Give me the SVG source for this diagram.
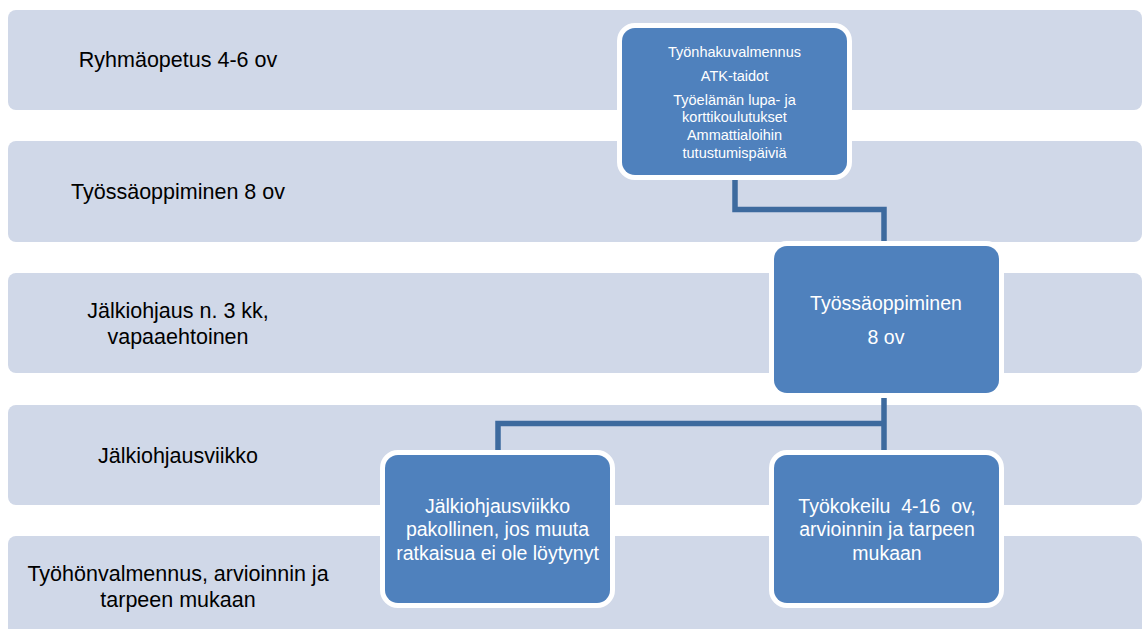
<svg xmlns="http://www.w3.org/2000/svg" width="1144" height="629" viewBox="0 0 1144 629">
<style>
.band{fill:#d0d8e8}
.bt{font-family:"Liberation Sans",Arial,sans-serif;font-size:21.5px;fill:#000;text-anchor:middle}
.box{fill:#4f81bd;stroke:#fff;stroke-width:10;paint-order:stroke}
.wt{font-family:"Liberation Sans",Arial,sans-serif;font-size:19.5px;fill:#fff;text-anchor:middle}
.st{font-family:"Liberation Sans",Arial,sans-serif;font-size:14.5px;fill:#fff;text-anchor:middle}
.conn{fill:none;stroke:#3d6a9e;stroke-width:5.5;stroke-linejoin:miter}
</style>
<rect width="1144" height="629" fill="#fff"/>
<g id="bands">
<g id="band1"><rect class="band" x="8" y="10" width="1134" height="100" rx="8"/><text class="bt" x="178" y="67">Ryhmäopetus 4-6 ov</text></g>
<g id="band2"><rect class="band" x="8" y="141" width="1134" height="101" rx="8"/><text class="bt" x="178" y="199">Työssäoppiminen 8 ov</text></g>
<g id="band3"><rect class="band" x="8" y="273" width="1134" height="100" rx="8"/><text class="bt" x="178" y="318">Jälkiohjaus n. 3 kk,</text><text class="bt" x="178" y="344">vapaaehtoinen</text></g>
<g id="band4"><rect class="band" x="8" y="405" width="1134" height="100" rx="8"/><text class="bt" x="178" y="463">Jälkiohjausviikko</text></g>
<g id="band5"><rect class="band" x="8" y="536" width="1134" height="110" rx="8"/><text class="bt" x="178" y="581">Työhönvalmennus, arvioinnin ja</text><text class="bt" x="178" y="607">tarpeen mukaan</text></g>
</g>
<g id="connectors">
<path class="conn" d="M735 178 V209.5 H884 V246"/>
<path class="conn" d="M884 393 V423.5 M498 455 V423.5 H884 V455"/>
</g>
<g id="node-top"><rect class="box" x="622" y="28" width="225" height="147" rx="13"/>
<text class="st" x="734.5" y="57">Työnhakuvalmennus</text>
<text class="st" x="734.5" y="81">ATK-taidot</text>
<text class="st" x="734.5" y="105">Työelämän lupa- ja</text>
<text class="st" x="734.5" y="122">korttikoulutukset</text>
<text class="st" x="734.5" y="140">Ammattialoihin</text>
<text class="st" x="734.5" y="158">tutustumispäiviä</text>
</g>
<g id="node-mid"><rect class="box" x="774" y="246" width="225" height="147" rx="13"/>
<text class="wt" x="886" y="310">Työssäoppiminen</text>
<text class="wt" x="886" y="344">8 ov</text>
</g>
<g id="node-left"><rect class="box" x="385" y="455" width="225" height="148" rx="13"/>
<text class="wt" x="497.5" y="513">Jälkiohjausviikko</text>
<text class="wt" x="497.5" y="536">pakollinen, jos muuta</text>
<text class="wt" x="497.5" y="560">ratkaisua ei ole löytynyt</text>
</g>
<g id="node-right"><rect class="box" x="774" y="455" width="225" height="148" rx="13"/>
<text class="wt" x="887" y="513" style="white-space:pre">Työkokeilu  4-16  ov,</text>
<text class="wt" x="887" y="536">arvioinnin ja tarpeen</text>
<text class="wt" x="887" y="560">mukaan</text>
</g>
</svg>
